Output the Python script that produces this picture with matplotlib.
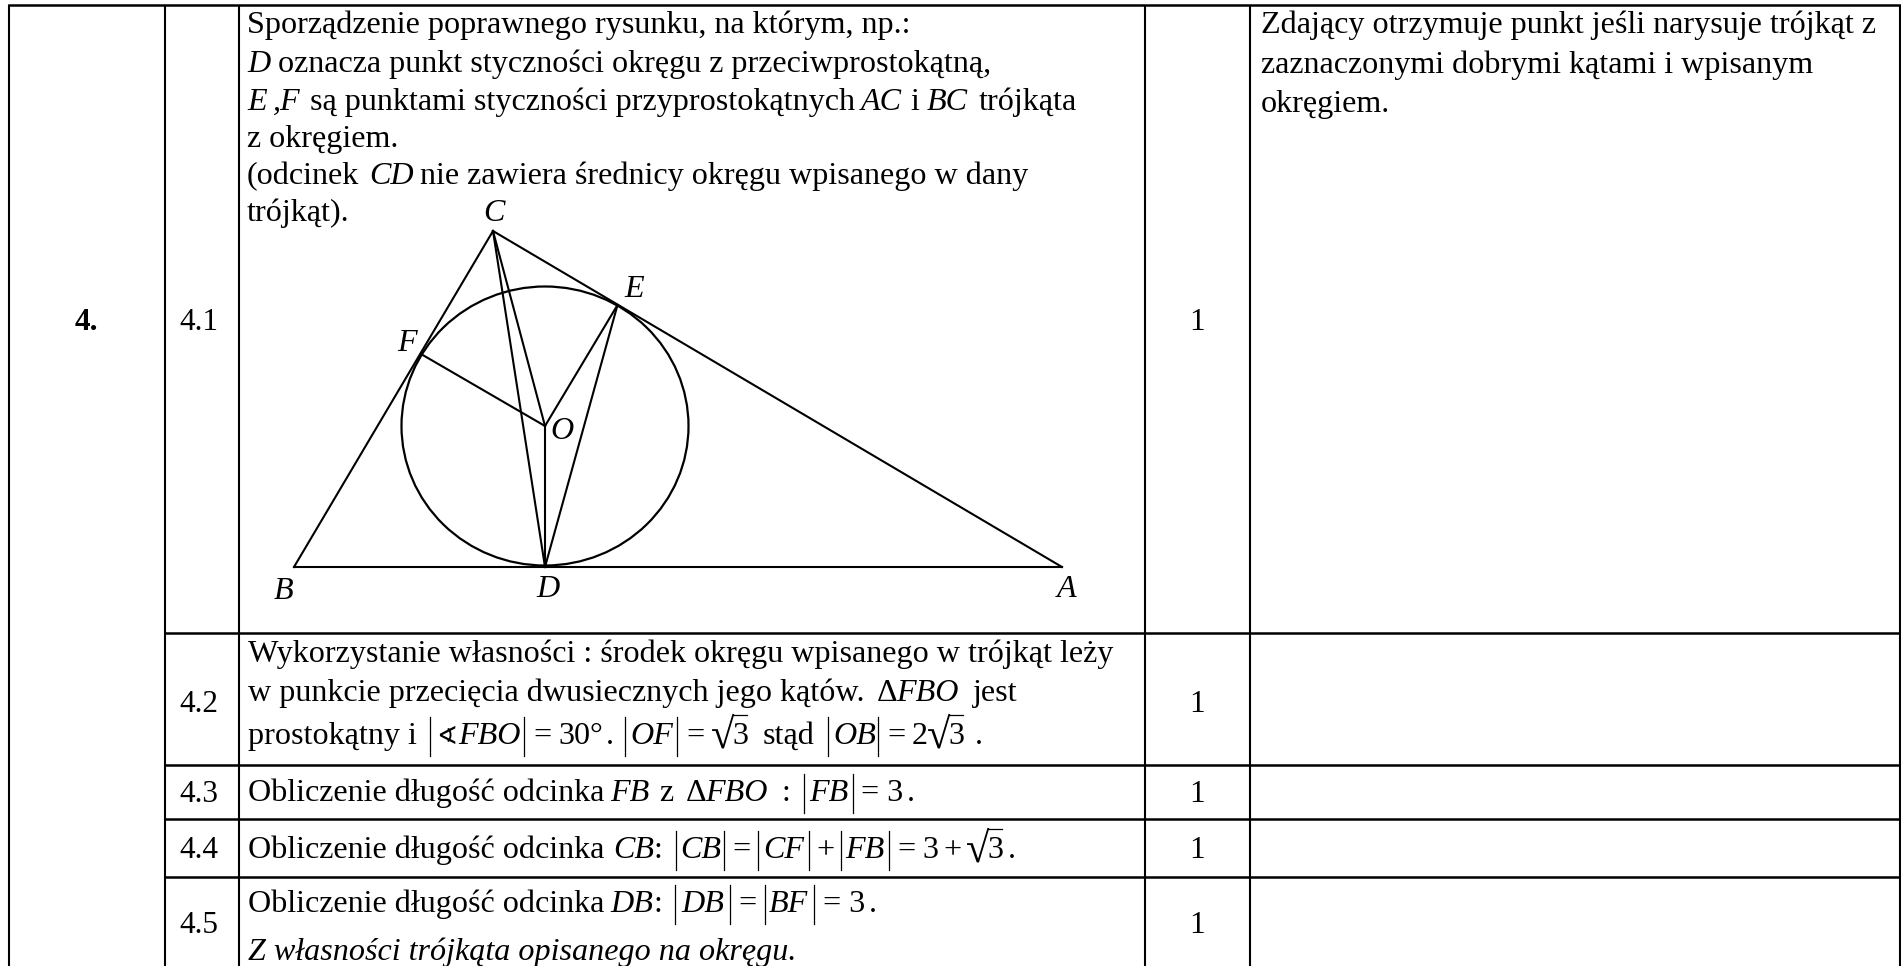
import matplotlib
matplotlib.use("Agg")
import matplotlib.pyplot as plt
from matplotlib.patches import Ellipse
from matplotlib.textpath import TextPath
from matplotlib.font_manager import FontProperties

plt.rcParams['font.family'] = ['Liberation Serif', 'DejaVu Sans']
plt.rcParams['mathtext.fontset'] = 'stix'

# table grid (pixel coordinates of the reference)
left_x = 9
right_x = 1900
col_x = [165, 239, 1145, 1250]
row_y = [5, 633, 765, 819, 877]
row_ids = ["4.1", "4.2", "4.3", "4.4", "4.5"]
row_base = [330, 712, 802, 858, 933]
points = ["1", "1", "1", "1", "1"]

# figure
A = (1062, 567); B = (294, 567); C = (493, 231); D = (545, 567)
E = (617.5, 305); F = (421, 354); O = (545, 426)
seg_list = [(A, B), (B, C), (C, A), (C, D), (C, O), (O, D), (O, E), (O, F), (E, D)]
circle = (545, 426, 287, 279)
labels = [("C", 494, 221), ("E", 634, 297), ("F", 407, 351), ("O", 562, 439),
          ("B", 284, 599), ("D", 548, 597), ("A", 1067, 597)]

# text fragments: (x, baseline, text, italic)
frags = [
    (247, 33, "Sporządzenie poprawnego rysunku, na którym, np.:", 0),
    (247, 72, "D", 1), (278, 72, "oznacza punkt styczności okręgu z przeciwprostokątną,", 0),
    (247, 110, "E", 1), (273, 110, ",F", 1), (310, 110, "są punktami styczności przyprostokątnych", 0),
    (861, 110, "AC", 1), (910, 110, "i", 0), (927, 110, "BC", 1), (979, 110, "trójkąta", 0),
    (247, 147, "z okręgiem.", 0),
    (247, 184, "(odcinek", 0), (369, 184, "CD", 1), (420, 184, "nie zawiera średnicy okręgu wpisanego w dany", 0),
    (247, 221, "trójkąt).", 0),
    (1261, 33, "Zdający otrzymuje punkt jeśli narysuje trójkąt z", 0),
    (1261, 73, "zaznaczonymi dobrymi kątami i wpisanym", 0),
    (1261, 112, "okręgiem.", 0),
    (248, 662, "Wykorzystanie własności : środek okręgu wpisanego w trójkąt leży", 0),
    (248, 701, "w punkcie przecięcia dwusiecznych jego kątów.", 0),
    (877, 701, "Δ", 0), (896, 701, "FBO", 1), (973, 701, "jest", 0),
    (248, 744, "prostokątny i", 0), (458, 744, "FBO", 1),
    (533, 744, "=", 0), (558, 744, "30°", 0), (606, 744, ".", 0), (630, 744, "OF", 1), (686, 744, "=", 0),
    (763, 744, "stąd", 0), (833, 744, "OB", 1), (887, 744, "=", 0), (912, 744, "2", 0), (975, 744, ".", 0),
    (248, 801, "Obliczenie długość odcinka", 0), (610, 801, "FB", 1), (659, 801, "z", 0),
    (686, 801, "Δ", 0), (705, 801, "FBO", 1), (782, 801, ":", 0), (809, 801, "FB", 1),
    (861, 801, "= 3", 0), (907, 801, ".", 0),
    (248, 858, "Obliczenie długość odcinka", 0), (613, 858, "CB", 1), (654, 858, ":", 0), (680, 858, "CB", 1),
    (732, 858, "=", 0), (763, 858, "CF", 1), (816, 858, "+", 0), (845, 858, "FB", 1), (897, 858, "=", 0),
    (922, 858, "3", 0), (943, 858, "+", 0), (1008, 858, ".", 0),
    (248, 912, "Obliczenie długość odcinka", 0), (610, 912, "DB", 1), (654, 912, ":", 0), (681, 912, "DB", 1),
    (738, 912, "=", 0), (769, 912, "BF", 1), (823, 912, "= 3", 0), (869, 912, ".", 0),
    (248, 960, "Z własności trójkąta opisanego na okręgu.", 1),
]
angle_sign = (436, 744, "∢")
# |...| bars: (x, baseline)
bars = [(430, 744), (524, 744), (625, 744), (677, 744), (828, 744), (878, 744),
        (804, 801), (853, 801),
        (676, 858), (724, 858), (758, 858), (809, 858), (841, 858), (889, 858),
        (675, 912), (730, 912), (765, 912), (814, 912)]
# square roots of 3: (radical x, baseline)
roots = [(712, 744), (928, 744), (967, 858)]

W, H = 1901, 966
fig = plt.figure(figsize=(W / 100, H / 100), dpi=100)
ax = fig.add_axes([0, 0, 1, 1])
ax.set_xlim(0, W); ax.set_ylim(H, 0); ax.axis("off")

FS = 23.1
FS_ID = 22.5
LW = 1.5
k = "black"
for x in [left_x] + col_x + [right_x]:
    ax.plot([x, x], [row_y[0], H], color=k, lw=LW, solid_capstyle="butt")
ax.plot([left_x, right_x], [row_y[0], row_y[0]], color=k, lw=LW + 0.3)
for y in row_y[1:]:
    ax.plot([col_x[0], right_x], [y, y], color=k, lw=LW + 0.3)

ax.text(86, row_base[0], "4.", fontsize=FS_ID, fontweight="bold", ha="center", va="baseline", color=k)
for rid, y, p in zip(row_ids, row_base, points):
    ax.text((col_x[0] + col_x[1]) / 2 - 3, y, rid, fontsize=FS_ID, ha="center", va="baseline", color=k)
    ax.text(1197, y, p, fontsize=FS_ID, ha="center", va="baseline", color=k)

for p, q in seg_list:
    ax.plot([p[0], q[0]], [p[1], q[1]], color=k, lw=1.5)
ax.add_patch(Ellipse(circle[:2], circle[2], circle[3], fill=False, ec=k, lw=1.6))
for s, x, y in labels:
    ax.text(x, y, s, fontsize=FS, style="italic", ha="center", va="baseline", color=k)

for x, y, s, it in frags:
    ax.text(x, y, s, fontsize=FS, style="italic" if it else "normal", ha="left", va="baseline", color=k)
ax.text(angle_sign[0], angle_sign[1], angle_sign[2], fontsize=18, ha="left", va="baseline", color=k)
for x, y in bars:
    ax.plot([x, x], [y - 27, y + 12], color=k, lw=0.9)

# radical glyph scaled to span the height seen in the reference
fp = FontProperties(family="Liberation Serif")
bb = TextPath((0, 0), "√", size=100, prop=fp).get_extents()
RAD_H = 34.0
px = 100 * RAD_H / bb.height          # font size in pixels
gx0, gx1 = bb.x0 * px / 100, bb.x1 * px / 100
gy0 = bb.y0 * px / 100
for x, y in roots:
    bottom = y + 4
    ax.text(x - gx0, bottom + gy0, "√", fontsize=px * 0.72, ha="left", va="baseline", color=k)
    ax.plot([x + gx1 - gx0 - 1, x + 35], [bottom - RAD_H + 0.7] * 2, color=k, lw=0.9)
    ax.text(x + 20, y, "3", fontsize=FS, ha="left", va="baseline", color=k)

fig.savefig("out.png", dpi=100)
